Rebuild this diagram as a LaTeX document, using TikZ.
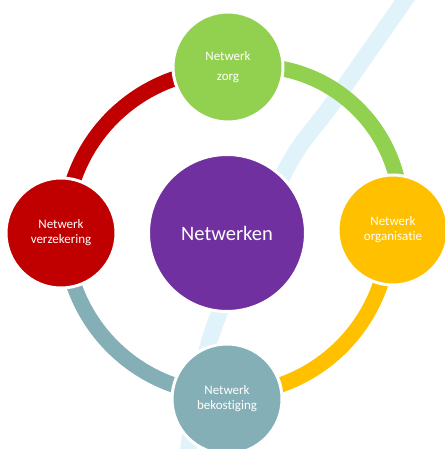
\documentclass[tikz,border=0pt]{standalone}
\usepackage{fontspec}
\setmainfont{Carlito}[Ligatures=NoCommon]
\definecolor{cgreen}{HTML}{92D050}
\definecolor{cyellow}{HTML}{FFC000}
\definecolor{cred}{HTML}{C00000}
\definecolor{cblue}{HTML}{84AFB6}
\definecolor{cpurple}{HTML}{7030A0}
\definecolor{cstreak}{HTML}{E0F3FA}
\begin{document}
\begin{tikzpicture}[x=1pt,y=1pt,
  bub/.style={circle, minimum size=110pt, inner sep=0pt, draw=white, line width=3pt,
    text=white, align=center, font=\fontsize{13}{15}\selectfont},
  hub/.style={bub, minimum size=157pt, font=\fontsize{20.5}{24}\selectfont},
  ringarc/.style={line width=15.5pt}]
\useasboundingbox (0,0) rectangle (444,449);
% background streak
\draw[cstreak, line width=16.5pt] plot[smooth, tension=0.6] coordinates {(414,462) (335,349) (284,276) (212,116) (187,-12)};
% ring arcs
\coordinate (rc) at (227,217);
\coordinate (gc) at (254,236);
\draw[ringarc, cred] (rc) ++(180:162) arc[start angle=180, end angle=90, radius=162];
\draw[ringarc, cblue] (rc) ++(270:162) arc[start angle=270, end angle=180, radius=162];
\draw[ringarc, cyellow] (rc) ++(0:162) arc[start angle=0, end angle=-90, radius=162];
\draw[ringarc, cgreen] (gc) ++(86:147) arc[start angle=86, end angle=4, radius=147];
% circles
\node[hub, fill=cpurple] (hub) at (227,216) {Netwerken};
\node[bub, fill=cgreen] (zorg) at (228,382) {Netwerk\\[5pt]zorg};
\node[bub, fill=cyellow] (org) at (393,219) {Netwerk\\organisatie};
\node[bub, fill=cblue] (bek) at (227,50) {Netwerk\\bekostiging};
\node[bub, fill=cred] (verz) at (61,216) {Netwerk\\verzekering};
\end{tikzpicture}
\end{document}
